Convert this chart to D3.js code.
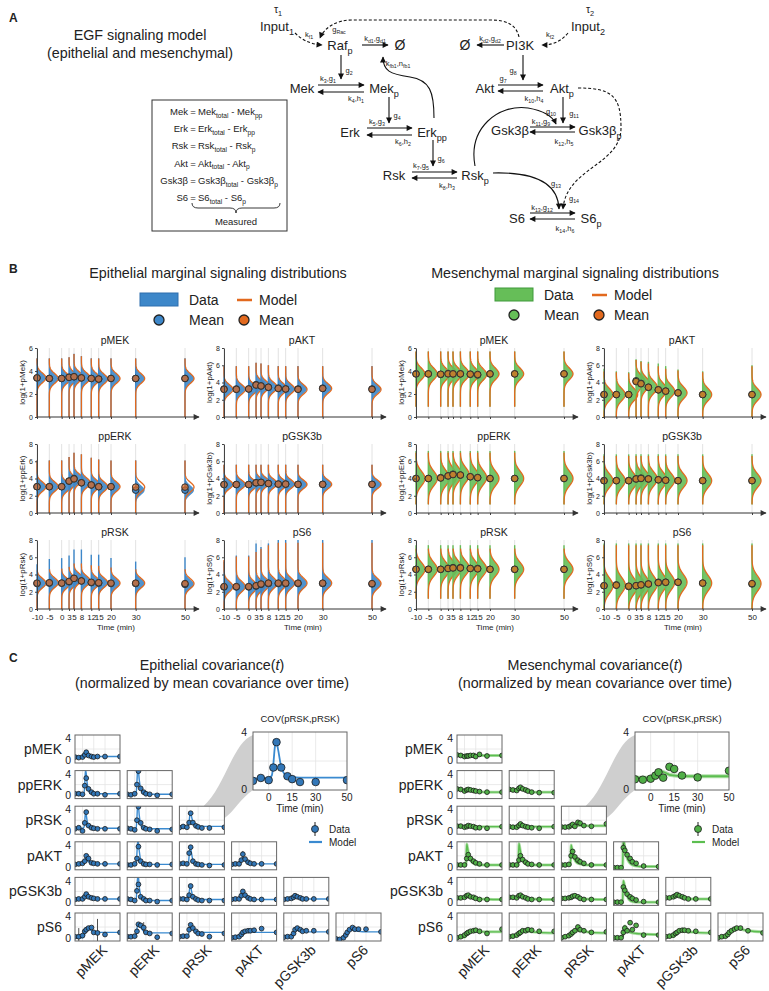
<!DOCTYPE html>
<html>
<head>
<meta charset="utf-8">
<script src="https://d3js.org/d3.v7.min.js"></script>
<style>
  body { margin: 0; background: #fff; }
  text { font-family: "Liberation Sans", Arial, sans-serif; fill: #222; white-space: pre; }
</style>
</head>
<body>
<script>
// ---------- data: panel B (marginal distributions) ----------
var times = [-10, -5, 0, 3, 5, 8, 12, 15, 20, 30, 50];
var proteinsB = ["pMEK", "pAKT", "ppERK", "pGSK3b", "pRSK", "pS6"];
var yLabelsB = ["log(1+pMek)", "log(1+pAkt)", "log(1+ppErk)", "log(1+pGsk3b)", "log(1+pRsk)", "log(1+pS6)"];
var yMaxB = [6, 8, 8, 8, 8, 8];

var epiDataMean = [
  [3.4, 3.35, 3.35, 3.45, 3.5, 3.4, 3.35, 3.3, 3.35, 3.35, 3.35],
  [3.25, 3.25, 3.25, 3.75, 3.6, 3.45, 3.35, 3.25, 3.25, 3.35, 3.25],
  [3.05, 3.05, 3.05, 3.7, 4.0, 3.5, 3.25, 3.05, 3.05, 2.65, 2.65],
  [3.3, 3.3, 3.3, 3.5, 3.55, 3.42, 3.35, 3.35, 3.32, 3.32, 3.32],
  [2.95, 3.0, 3.0, 3.15, 3.55, 3.25, 3.05, 3.0, 2.95, 2.95, 2.85],
  [2.55, 2.55, 2.55, 2.65, 2.85, 2.95, 2.95, 2.95, 2.95, 2.95, 2.9]
];
var epiModelMean = [
  [3.4, 3.35, 3.35, 3.45, 3.5, 3.4, 3.35, 3.3, 3.35, 3.35, 3.35],
  [3.2, 3.2, 3.25, 3.7, 3.6, 3.45, 3.3, 3.25, 3.2, 3.3, 3.2],
  [3.05, 3.05, 3.05, 3.7, 3.95, 3.5, 3.25, 3.05, 3.05, 3.0, 3.0],
  [3.3, 3.3, 3.3, 3.5, 3.55, 3.42, 3.35, 3.35, 3.32, 3.32, 3.32],
  [3.0, 3.05, 3.0, 3.2, 3.55, 3.25, 3.1, 3.05, 3.0, 3.0, 2.95],
  [2.6, 2.6, 2.6, 2.7, 2.9, 3.0, 3.0, 3.0, 3.0, 3.0, 2.95]
];
var epiDataTop = [
  [5.1, 5.1, 5.1, 5.2, 5.5, 5.3, 5.1, 5.1, 5.1, 5.1, 5.1],
  [5.9, 5.9, 5.9, 6.3, 6.2, 6.0, 5.9, 5.9, 5.9, 5.9, 5.9],
  [6.1, 6.1, 6.1, 6.5, 7.0, 6.8, 6.4, 6.2, 6.1, 6.1, 6.1],
  [5.6, 5.6, 5.6, 5.6, 5.6, 5.6, 5.6, 5.6, 5.6, 5.6, 5.6],
  [5.2, 5.8, 5.9, 6.2, 6.9, 6.9, 6.3, 6.3, 5.9, 5.5, 6.0],
  [5.5, 6.2, 6.2, 7.6, 7.2, 7.6, 8.0, 8.0, 8.0, 8.0, 8.0]
];
var epiModelTop = [
  [5.1, 5.1, 5.1, 5.2, 5.5, 5.3, 5.1, 5.1, 5.1, 5.1, 5.1],
  [5.9, 5.9, 5.9, 6.3, 6.2, 6.0, 5.9, 5.9, 5.9, 5.9, 5.9],
  [6.1, 6.1, 6.1, 6.5, 7.0, 6.8, 6.4, 6.2, 6.1, 6.1, 6.1],
  [5.6, 5.6, 5.6, 5.6, 5.6, 5.6, 5.6, 5.6, 5.6, 5.6, 5.6],
  [4.5, 4.6, 4.7, 4.9, 5.3, 5.3, 5.1, 5.0, 4.8, 4.6, 4.6],
  [5.7, 6.1, 6.1, 6.6, 7.0, 7.4, 7.7, 7.7, 7.7, 7.7, 7.7]
];
var epiBottom = [0, 0, 0, 0, 0, 0];
var epiSpread = [0.42, 0.55, 0.55, 0.5, 0.55, 0.6];

var mesDataMean = [
  [3.75, 3.75, 3.7, 3.78, 3.75, 3.75, 3.72, 3.65, 3.75, 3.75, 3.75],
  [2.6, 2.6, 2.6, 4.2, 3.9, 3.45, 3.15, 3.0, 2.8, 2.6, 2.6],
  [4.0, 4.0, 4.1, 4.3, 4.5, 4.4, 4.2, 4.1, 4.0, 4.0, 4.0],
  [3.75, 3.75, 3.75, 3.95, 4.05, 3.95, 3.85, 3.8, 3.75, 3.75, 3.75],
  [4.6, 4.6, 4.6, 4.7, 4.8, 4.8, 4.7, 4.7, 4.6, 4.6, 4.6],
  [2.7, 2.8, 2.6, 2.7, 2.8, 2.9, 3.1, 3.1, 3.1, 3.0, 2.9]
];
var mesModelMean = [
  [3.75, 3.75, 3.72, 3.75, 3.75, 3.75, 3.72, 3.7, 3.75, 3.75, 3.75],
  [2.6, 2.6, 2.6, 4.1, 3.85, 3.45, 3.15, 3.0, 2.8, 2.6, 2.6],
  [4.0, 4.0, 4.05, 4.3, 4.45, 4.4, 4.2, 4.1, 4.0, 4.0, 4.0],
  [3.75, 3.75, 3.75, 3.95, 4.0, 3.95, 3.85, 3.8, 3.75, 3.75, 3.75],
  [4.6, 4.6, 4.6, 4.7, 4.75, 4.75, 4.7, 4.65, 4.6, 4.6, 4.6],
  [2.7, 2.75, 2.65, 2.7, 2.8, 2.9, 3.05, 3.1, 3.1, 3.0, 2.95]
];
var mesDataTop = [
  [5.7, 5.7, 5.7, 5.7, 5.7, 5.7, 5.7, 5.7, 5.7, 5.7, 5.7],
  [5.6, 5.3, 5.2, 6.7, 6.5, 6.4, 6.2, 5.9, 5.5, 5.3, 6.0],
  [7.2, 7.2, 7.2, 7.2, 7.2, 7.2, 7.2, 7.2, 7.2, 7.2, 7.2],
  [6.8, 6.8, 6.8, 6.8, 6.8, 6.8, 6.8, 6.8, 6.8, 6.8, 6.8],
  [7.4, 7.4, 7.4, 7.4, 7.4, 7.4, 7.4, 7.4, 7.4, 7.4, 7.4],
  [7.6, 7.6, 7.6, 7.6, 7.6, 7.6, 7.6, 7.6, 7.6, 7.6, 7.6]
];
var mesModelTop = [
  [5.7, 5.7, 5.7, 5.7, 5.7, 5.7, 5.7, 5.7, 5.7, 5.7, 5.7],
  [5.3, 5.2, 5.1, 6.6, 6.4, 6.2, 5.9, 5.6, 5.4, 5.2, 5.9],
  [7.0, 7.0, 7.0, 7.0, 7.0, 7.0, 7.0, 7.0, 7.0, 7.0, 7.0],
  [6.6, 6.6, 6.6, 6.6, 6.6, 6.6, 6.6, 6.6, 6.6, 6.6, 6.6],
  [7.0, 7.0, 7.0, 7.0, 7.0, 7.0, 7.0, 7.0, 7.0, 7.0, 7.0],
  [7.4, 7.4, 7.4, 7.4, 7.4, 7.4, 7.4, 7.4, 7.4, 7.4, 7.4]
];
var mesBottom = [0.9, 0, 1.0, 1.0, 1.2, 0];
var mesSpread = [0.5, 0.7, 0.85, 0.8, 0.8, 0.9];

// ---------- data: panel C (covariance over time) ----------
var rowLabelsC = ["pMEK", "ppERK", "pRSK", "pAKT", "pGSK3b", "pS6"];
var colLabelsC = ["pMEK", "pERK", "pRSK", "pAKT", "pGSK3b", "pS6"];
var modelTimes = [-10, 0, 2, 3, 4, 5, 6, 8, 10, 12, 15, 20, 30, 50];
var bigTicks = [0, 15, 30, 50];

// lower triangle, row by row
var epiCovData = [
  [0.5, 0.4, 0.5, 0.9, 1.4, 0.8, 0.6, 0.5, 0.6, 0.6, 0.6],
  [0.3, 0.3, 0.2, 1.8, 3.2, 1.2, 0.6, 0.3, 0.3, 0.1, 0.3],
  [0.2, 0.1, 0.3, 2.0, 4.5, 1.3, 0.6, 0.3, 0.2, 0.0, 0.2],
  [0.4, 0.6, 0.0, 1.5, 3.5, 1.0, 0.6, 0.5, 0.4, 0.4, 0.4],
  [0.5, 0.4, 0.2, 2.0, 4.5, 1.5, 0.6, 0.4, 0.3, 0.0, 0.3],
  [0.63, 0.83, 0.68, 1.55, 3.3, 1.55, 0.95, 0.75, 0.55, 0.55, 0.68],
  [0.4, 0.5, 0.6, 1.0, 2.0, 1.5, 0.7, 0.6, 0.5, 0.5, 0.5],
  [0.3, 0.3, 0.5, 1.5, 3.7, 1.0, 0.5, 0.4, 0.4, 0.3, 0.4],
  [0.5, 0.6, 0.5, 2.5, 3.6, 1.0, 0.5, 0.4, 0.3, 0.2, 0.3],
  [0.4, 0.5, 0.5, 1.2, 2.3, 1.4, 0.8, 0.6, 0.5, 0.5, 0.5],
  [0.5, 0.6, 0.6, 1.0, 1.5, 1.0, 0.8, 0.7, 0.6, 0.6, 0.6],
  [0.6, 0.5, 0.3, 2.1, 3.3, 1.0, 0.6, 0.3, 0.3, 0.1, 0.3],
  [0.6, 0.6, 0.5, 1.3, 3.0, 1.0, 0.6, 0.4, 0.3, 0.3, 0.3],
  [0.5, 0.6, 0.6, 1.2, 2.0, 1.3, 0.8, 0.6, 0.5, 0.5, 0.5],
  [0.5, 0.6, 0.7, 0.9, 1.2, 1.0, 0.8, 0.6, 0.6, 0.6, 0.6],
  [0.2, 0.2, 0.4, 1.2, 1.5, 1.8, 1.9, 1.0, 0.9, 0.6, 1.0],
  [0.2, 0.2, 0.3, 1.2, 2.5, 2.3, 1.9, 1.0, 0.8, 0.1, 0.8],
  [0.2, 0.3, 0.3, 1.5, 2.4, 1.8, 1.2, 0.8, 0.7, 0.2, 0.8],
  [0.0, 0.1, 0.2, 0.6, 1.0, 1.2, 1.3, 1.3, 1.4, 1.7, 1.0],
  [0.1, 0.2, 0.2, 0.8, 1.5, 1.8, 1.5, 1.2, 1.3, 1.3, 1.1],
  [-0.2, -0.3, 0.0, 0.5, 1.0, 1.5, 1.9, 1.6, 1.6, 1.6, 1.1]
];
var epiCovModel = [
  [0.6, 0.6, 0.6, 0.9, 1.3, 1.2, 0.9, 0.7, 0.6, 0.6, 0.6, 0.6, 0.6, 0.6],
  [0.3, 0.3, 0.5, 2.0, 4.8, 4.0, 2.5, 1.0, 0.5, 0.3, 0.3, 0.3, 0.3, 0.3],
  [0.2, 0.2, 0.5, 2.5, 5.0, 4.5, 3.0, 1.2, 0.5, 0.3, 0.2, 0.2, 0.2, 0.2],
  [0.5, 0.5, 0.7, 1.8, 3.5, 3.0, 2.0, 0.9, 0.6, 0.5, 0.5, 0.5, 0.5, 0.5],
  [0.4, 0.4, 0.6, 2.5, 5.0, 4.6, 3.0, 1.2, 0.6, 0.5, 0.4, 0.4, 0.4, 0.4],
  [0.8, 0.8, 1.0, 1.8, 3.0, 3.3, 2.8, 1.6, 1.1, 0.95, 0.88, 0.85, 0.85, 0.85],
  [0.5, 0.5, 0.7, 1.1, 1.6, 1.6, 1.3, 0.9, 0.7, 0.6, 0.5, 0.5, 0.5, 0.5],
  [0.4, 0.4, 0.6, 2.5, 4.8, 4.5, 3.0, 1.2, 0.6, 0.4, 0.4, 0.4, 0.4, 0.4],
  [0.4, 0.4, 0.6, 2.0, 3.4, 3.5, 2.6, 1.2, 0.6, 0.4, 0.4, 0.4, 0.4, 0.4],
  [0.5, 0.5, 0.6, 1.0, 1.6, 1.7, 1.4, 1.0, 0.7, 0.6, 0.5, 0.5, 0.5, 0.5],
  [0.6, 0.6, 0.7, 1.1, 1.5, 1.6, 1.4, 1.0, 0.8, 0.7, 0.6, 0.6, 0.6, 0.6],
  [0.4, 0.4, 0.6, 2.8, 4.8, 4.6, 3.0, 1.2, 0.5, 0.4, 0.3, 0.3, 0.3, 0.3],
  [0.6, 0.6, 0.7, 1.8, 2.8, 2.9, 2.2, 1.0, 0.6, 0.5, 0.5, 0.5, 0.5, 0.5],
  [0.5, 0.5, 0.7, 1.2, 1.7, 1.7, 1.4, 1.0, 0.7, 0.6, 0.5, 0.5, 0.5, 0.5],
  [0.6, 0.6, 0.7, 0.9, 1.1, 1.2, 1.1, 0.9, 0.7, 0.6, 0.6, 0.6, 0.6, 0.6],
  [0.0, 0.0, 0.2, 0.6, 1.2, 1.6, 1.8, 1.9, 1.6, 1.3, 1.1, 1.0, 1.0, 1.0],
  [0.2, 0.2, 0.6, 1.6, 2.5, 2.6, 2.4, 2.0, 1.5, 1.2, 1.0, 0.9, 0.9, 0.9],
  [0.2, 0.2, 0.5, 1.3, 1.9, 2.0, 1.9, 1.6, 1.3, 1.1, 1.0, 1.0, 1.0, 1.0],
  [0.0, 0.0, 0.2, 0.5, 0.9, 1.1, 1.2, 1.3, 1.3, 1.2, 1.1, 1.0, 1.0, 1.0],
  [0.1, 0.1, 0.3, 0.9, 1.4, 1.6, 1.6, 1.4, 1.3, 1.2, 1.1, 1.1, 1.1, 1.1],
  [-0.1, -0.1, 0.1, 0.4, 0.8, 1.1, 1.4, 1.5, 1.5, 1.4, 1.3, 1.2, 1.1, 1.1]
];
var mesCovData = [
  [0.9, 0.8, 0.6, 0.7, 0.7, 0.8, 0.8, 0.6, 1.0, 0.7, 0.8],
  [1.2, 1.1, 0.8, 1.0, 1.1, 1.0, 0.9, 0.8, 0.7, 0.6, 0.6],
  [1.1, 1.0, 0.9, 1.3, 1.5, 1.2, 1.0, 0.8, 0.6, 0.5, 0.5],
  [0.9, 0.9, 0.7, 0.8, 1.0, 0.9, 0.8, 0.6, 0.6, 0.5, 0.8],
  [0.8, 0.7, 0.7, 1.0, 1.3, 1.0, 0.8, 0.7, 0.6, 0.5, 0.8],
  [0.74, 0.71, 0.78, 0.99, 1.22, 0.85, 1.6, 1.45, 1.0, 0.87, 1.33],
  [0.3, 0.3, 0.3, 1.5, 2.2, 1.5, 1.0, 0.7, 0.5, 0.3, 0.3],
  [0.3, 0.3, 0.3, 1.2, 2.0, 1.3, 0.8, 0.5, 0.4, 0.3, 0.3],
  [0.3, 0.3, 0.4, 2.0, 2.8, 1.8, 1.2, 0.9, 0.6, 0.3, 0.3],
  [-0.2, -0.2, -0.2, 3.5, 3.0, 2.2, 1.5, 0.9, 0.6, 0.1, 0.0],
  [0.8, 0.8, 0.9, 1.2, 1.3, 1.0, 0.9, 0.7, 0.5, 0.5, 0.5],
  [0.9, 0.9, 0.8, 1.2, 1.3, 1.0, 0.8, 0.6, 0.5, 0.5, 0.5],
  [0.7, 0.7, 0.8, 0.9, 1.1, 1.2, 1.0, 0.7, 0.5, 0.5, 0.5],
  [0.0, 0.0, 0.0, 2.8, 2.2, 1.5, 1.0, 0.7, 0.4, 0.1, 0.0],
  [0.8, 0.8, 1.0, 1.2, 1.4, 1.2, 1.0, 0.8, 0.6, 0.6, 0.6],
  [0.0, 0.2, 0.5, 0.8, 1.0, 1.2, 1.3, 1.4, 1.2, 0.8, 1.6],
  [0.2, 0.3, 0.5, 0.8, 1.0, 1.3, 1.3, 1.5, 1.4, 1.2, 1.2],
  [0.0, 0.2, 0.4, 0.7, 1.0, 1.3, 2.0, 1.5, 1.3, 1.0, 1.1],
  [0.0, 0.0, 0.0, 1.0, 1.8, 1.3, 2.8, 1.5, 2.3, 0.5, 0.5],
  [0.2, 0.3, 0.5, 0.8, 1.0, 1.3, 1.4, 1.4, 1.3, 1.2, 1.0],
  [0.0, 0.2, 0.3, 0.6, 1.0, 1.3, 1.6, 1.8, 1.8, 1.3, 0.9]
];
var mesCovModel = [
  [0.8, 0.8, 0.8, 0.8, 0.8, 0.8, 0.8, 0.8, 0.8, 0.8, 0.8, 0.8, 0.8, 0.8],
  [1.1, 0.95, 0.95, 0.95, 0.9, 0.9, 0.9, 0.85, 0.8, 0.75, 0.7, 0.65, 0.6, 0.6],
  [1.0, 0.9, 1.0, 1.2, 1.3, 1.3, 1.2, 1.1, 1.0, 0.9, 0.8, 0.6, 0.6, 0.6],
  [0.8, 0.8, 0.8, 0.8, 0.8, 0.8, 0.8, 0.8, 0.8, 0.8, 0.8, 0.8, 0.8, 0.8],
  [0.8, 0.8, 0.85, 0.95, 1.05, 1.1, 1.05, 1.0, 0.95, 0.9, 0.85, 0.8, 0.8, 0.8],
  [0.85, 0.85, 0.95, 1.05, 1.15, 1.25, 1.3, 1.25, 1.15, 1.05, 1.0, 0.95, 0.95, 0.95],
  [0.3, 0.3, 0.3, 4.2, 3.5, 2.8, 2.0, 1.2, 0.8, 0.6, 0.4, 0.3, 0.3, 0.3],
  [0.3, 0.3, 0.3, 4.3, 3.6, 2.8, 2.0, 1.1, 0.7, 0.5, 0.4, 0.3, 0.3, 0.3],
  [0.3, 0.3, 0.3, 4.0, 3.4, 2.7, 2.0, 1.2, 0.8, 0.6, 0.5, 0.3, 0.3, 0.3],
  [-0.2, -0.2, -0.2, 5.0, 4.5, 3.5, 2.6, 1.6, 1.0, 0.6, 0.3, 0.1, 0.0, 0.0],
  [0.8, 0.8, 0.85, 1.0, 1.1, 1.2, 1.15, 1.0, 0.9, 0.8, 0.7, 0.6, 0.55, 0.5],
  [0.9, 0.9, 0.9, 1.0, 1.1, 1.2, 1.15, 1.0, 0.9, 0.8, 0.7, 0.6, 0.55, 0.5],
  [0.8, 0.8, 0.85, 0.95, 1.05, 1.1, 1.1, 1.0, 0.9, 0.8, 0.7, 0.6, 0.55, 0.5],
  [0.0, 0.0, 0.0, 4.0, 3.5, 2.8, 2.0, 1.2, 0.6, 0.3, 0.1, 0.0, 0.0, 0.0],
  [0.8, 0.8, 0.9, 1.1, 1.3, 1.35, 1.3, 1.1, 0.9, 0.8, 0.7, 0.6, 0.6, 0.6],
  [0.0, 0.1, 0.4, 0.7, 0.9, 1.0, 1.1, 1.2, 1.2, 1.2, 1.2, 1.1, 1.1, 1.1],
  [0.2, 0.3, 0.5, 0.7, 0.9, 1.0, 1.1, 1.2, 1.3, 1.3, 1.2, 1.1, 1.0, 0.9],
  [0.1, 0.2, 0.4, 0.6, 0.8, 1.0, 1.1, 1.2, 1.3, 1.3, 1.3, 1.2, 1.0, 0.9],
  [0.0, 0.0, 0.2, 1.2, 2.0, 2.2, 2.0, 1.6, 1.2, 1.0, 0.9, 0.8, 0.7, 0.6],
  [0.2, 0.2, 0.4, 0.7, 0.9, 1.1, 1.2, 1.3, 1.3, 1.3, 1.2, 1.1, 1.0, 0.9],
  [0.0, 0.1, 0.3, 0.5, 0.8, 1.0, 1.2, 1.4, 1.6, 1.7, 1.7, 1.6, 1.3, 1.1]
];
// [cell, time index, half length] for the few visible long error bars
var epiCovErr = [[15, 1, 1.6], [15, 8, 2.6], [16, 6, 1.0], [9, 4, 0.6]];
var mesCovErr = [[18, 3, 0.8], [9, 3, 0.8]];

// ---------- colours ----------
var blue = "#3d87c9", blueDark = "#2f6fae", green = "#66be58", greenDark = "#3f9a3a",
    orange = "#e2691e";

var svg = d3.select("body").append("svg").attr("width", 769).attr("height", 991);
var defs = svg.append("defs");
defs.append("marker").attr("id", "ah").attr("viewBox", "0 0 10 10")
  .attr("refX", 9).attr("refY", 5).attr("markerWidth", 7).attr("markerHeight", 6)
  .attr("markerUnits", "userSpaceOnUse").attr("orient", "auto")
  .append("path").attr("d", "M0,0 L10,5 L0,10 z").attr("fill", "#111");
defs.append("marker").attr("id", "axarrow").attr("viewBox", "0 0 10 10")
  .attr("refX", 9).attr("refY", 5).attr("markerWidth", 8).attr("markerHeight", 6)
  .attr("markerUnits", "userSpaceOnUse").attr("orient", "auto")
  .append("path").attr("d", "M0,0 L10,5 L0,10 z").attr("fill", "#333");

// text with _{...} subscripts
function rich(parent, x, y, str, size, anchor) {
  var t = parent.append("text").attr("x", x).attr("y", y).attr("font-size", size)
    .attr("text-anchor", anchor || "middle");
  var re = /_\{([^}]*)\}/g, last = 0, m, parts = [], shift = 0;
  while ((m = re.exec(str)) !== null) {
    if (m.index > last) parts.push([str.slice(last, m.index), false]);
    parts.push([m[1], true]);
    last = re.lastIndex;
  }
  if (last < str.length) parts.push([str.slice(last), false]);
  parts.forEach(function (p) {
    var target = p[1] ? size * 0.3 : 0;
    t.append("tspan").attr("dy", target - shift).attr("font-size", p[1] ? size * 0.7 : size).text(p[0]);
    shift = target;
  });
  return t;
}
function plain(parent, x, y, str, size, anchor) {
  return parent.append("text").attr("x", x).attr("y", y).attr("font-size", size)
    .attr("text-anchor", anchor || "middle").text(str);
}

// ================= Panel A =================
var gA = svg.append("g");
plain(gA, 9, 22, "A", 12, "start").attr("font-weight", "bold");
plain(gA, 140, 40, "EGF signaling model", 14.3);
plain(gA, 140, 58, "(epithelial and mesenchymal)", 14.3);

// equations box
gA.append("rect").attr("x", 152).attr("y", 100).attr("width", 135).attr("height", 131)
  .attr("fill", "none").attr("stroke", "#333").attr("stroke-width", 1);
var eqL = ["Mek", "Erk", "Rsk", "Akt", "Gsk3β", "S6"];
var eqR = ["Mek_{total} - Mek_{pp}", "Erk_{total} - Erk_{pp}", "Rsk_{total} - Rsk_{p}",
           "Akt_{total} - Akt_{p}", "Gsk3β_{total} - Gsk3β_{p}", "S6_{total} - S6_{p}"];
eqL.forEach(function (s, i) {
  var yb = 115 + i * 17.2;
  plain(gA, 188, yb, s, 9.5, "end");
  plain(gA, 193, yb, "=", 9.5);
  rich(gA, 198, yb, eqR[i], 9.5, "start");
});
gA.append("path").attr("d", "M192,203 Q192,208 198,208 L230,208 Q236,208 236,213 Q236,208 242,208 L274,208 Q280,208 280,203")
  .attr("fill", "none").attr("stroke", "#222").attr("stroke-width", 0.9);
plain(gA, 236, 225, "Measured", 9.5);

// network nodes
var nodes = [
  ["τ_{1}", 278, 13, 10.5], ["Input_{1}", 277, 31, 13], ["Raf_{p}", 340, 50, 13], ["Ø", 400, 50, 14],
  ["Ø", 465, 50, 14], ["PI3K", 520, 50, 13], ["τ_{2}", 590, 13, 10.5], ["Input_{2}", 588, 31, 13],
  ["Mek", 302, 93, 13], ["Mek_{p}", 384, 93, 13], ["Akt", 485, 93, 13], ["Akt_{p}", 562, 93, 13],
  ["Erk", 350, 137, 13], ["Erk_{pp}", 432, 137, 13], ["Gsk3β", 510, 135, 13], ["Gsk3β_{p}", 600, 135, 13],
  ["Rsk", 394, 180, 13], ["Rsk_{p}", 475, 180, 13], ["S6", 517, 223, 13], ["S6_{p}", 591, 223, 13]
];
nodes.forEach(function (n) { rich(gA, n[1], n[2], n[0], n[3]); });

var rates = [
  ["k_{f1}", 309, 37], ["g_{Rac}", 339, 32], ["k_{d1},g_{d1}", 375, 41], ["k_{fb1},n_{fb1}", 398, 66],
  ["g_{2}", 349, 73], ["k_{3},g_{1}", 328, 81], ["k_{4},h_{1}", 356, 101], ["g_{4}", 397, 118],
  ["k_{5},g_{3}", 377, 124], ["k_{6},h_{2}", 403, 144], ["g_{6}", 441, 161], ["k_{7},g_{5}", 421, 168],
  ["k_{8},h_{3}", 447, 188], ["k_{d2},g_{d2}", 490, 41], ["k_{f2}", 550, 37], ["g_{8}", 513, 73],
  ["g_{7}", 503, 81], ["k_{10},h_{4}", 534, 101], ["g_{10}", 551, 114], ["g_{11}", 574, 116],
  ["k_{11},g_{9}", 541, 124], ["k_{12},h_{5}", 564, 144], ["g_{13}", 556, 186], ["g_{14}", 574, 201],
  ["k_{13},g_{12}", 542, 210], ["k_{14},h_{6}", 565, 231]
];
rates.forEach(function (r) { rich(gA, r[1], r[2], r[0], 7.5); });

var straight = [
  [362, 45, 388, 45], [504, 45, 477, 45], [341, 55, 341, 79], [318, 85, 364, 85], [364, 92, 318, 92],
  [389, 97, 389, 123], [367, 128, 412, 128], [412, 135, 367, 135], [433, 140, 433, 166],
  [412, 172, 457, 172], [457, 178, 412, 178], [523, 55, 523, 80], [498, 85, 543, 85], [543, 91, 498, 91],
  [563, 97, 563, 123], [530, 127, 575, 127], [575, 132, 530, 132], [530, 213, 575, 213], [575, 219, 530, 219]
];
straight.forEach(function (a) {
  gA.append("line").attr("x1", a[0]).attr("y1", a[1]).attr("x2", a[2]).attr("y2", a[3])
    .attr("stroke", "#111").attr("stroke-width", 1.1).attr("marker-end", "url(#ah)");
});
var curves = [
  ["M295,33 C302,40 310,44 322,45", true],
  ["M519,37 C516,24 506,20 490,20 L352,20 C336,20 324,28 320,38", true],
  ["M568,33 C562,40 555,45 542,45", true],
  ["M578,88 C612,88 621,96 621,128 C621,165 566,168 563,209", true],
  ["M434,118 C434,92 430,80 410,77 C390,74 383,71 383,57", false],
  ["M475,166 C468,128 498,104 528,108 C545,111 553,117 556,124", false],
  ["M493,173 C530,172 558,180 559,209", false]
];
curves.forEach(function (c) {
  gA.append("path").attr("d", c[0]).attr("fill", "none").attr("stroke", "#111")
    .attr("stroke-width", 1.1).attr("stroke-dasharray", c[1] ? "3,2" : null)
    .attr("marker-end", "url(#ah)");
});

// ================= Panel B =================
var gB = svg.append("g");
plain(gB, 9, 273, "B", 12, "start").attr("font-weight", "bold");
plain(gB, 218, 278, "Epithelial marginal signaling distributions", 14.3);
plain(gB, 575, 278, "Mesenchymal marginal signaling distributions", 14.3);

function legendB(x, y, fill, stroke) {
  gB.append("rect").attr("x", x).attr("y", y).attr("width", 38).attr("height", 13)
    .attr("fill", fill).attr("stroke", stroke).attr("stroke-width", 1);
  plain(gB, x + 49, y + 12, "Data", 14, "start");
  gB.append("line").attr("x1", x + 97).attr("x2", x + 112).attr("y1", y + 7).attr("y2", y + 7)
    .attr("stroke", orange).attr("stroke-width", 2.5);
  plain(gB, x + 119, y + 12, "Model", 14, "start");
  gB.append("circle").attr("cx", x + 19).attr("cy", y + 27).attr("r", 5)
    .attr("fill", fill).attr("stroke", "#222").attr("stroke-width", 1.3);
  plain(gB, x + 49, y + 32, "Mean", 14, "start");
  gB.append("circle").attr("cx", x + 104).attr("cy", y + 27).attr("r", 5)
    .attr("fill", orange).attr("stroke", "#222").attr("stroke-width", 1.3);
  plain(gB, x + 119, y + 32, "Mean", 14, "start");
}
legendB(140, 293, blue, blueDark);
legendB(495, 288, green, greenDark);

var colX = [37, 224, 416, 604], rowZero = [417, 513, 609], plotH = 69, plotW = 148;

function violinPlot(x0, yZero, k, dMean, mMean, dTop, mTop, bottom, sd, fill, showTime) {
  var g = gB.append("g");
  var x = d3.scaleLinear().domain([-10, 50]).range([x0, x0 + plotW]);
  var y = d3.scaleLinear().domain([0, yMaxB[k]]).range([yZero, yZero - plotH]);
  var w = 9;

  times.forEach(function (t) {
    g.append("line").attr("x1", x(t)).attr("x2", x(t)).attr("y1", y(0)).attr("y2", yZero - plotH)
      .attr("stroke", "#e2e2e2").attr("stroke-width", 1);
  });
  times.forEach(function (t, i) {
    var ys = d3.range(bottom, dTop[i] + 0.001, 0.04);
    var dens = function (v, m) { return Math.exp(-0.5 * Math.pow((v - m) / sd, 2)); };
    g.append("path").datum(ys)
      .attr("d", d3.area().y(function (v) { return y(v); }).x0(x(t))
        .x1(function (v) { return x(t) + w * dens(v, dMean[i]); }))
      .attr("fill", fill).attr("fill-opacity", 0.9);
    g.append("line").attr("x1", x(t)).attr("x2", x(t)).attr("y1", y(bottom)).attr("y2", y(dTop[i]))
      .attr("stroke", fill).attr("stroke-width", 1.4);
    var ym = d3.range(bottom, mTop[i] + 0.001, 0.04);
    g.append("path").datum(ym)
      .attr("d", d3.line().y(function (v) { return y(v); })
        .x(function (v) { return x(t) + w * dens(v, mMean[i]); }))
      .attr("fill", "none").attr("stroke", orange).attr("stroke-width", 1.3);
  });
  times.forEach(function (t, i) {
    g.append("circle").attr("cx", x(t)).attr("cy", y(dMean[i])).attr("r", 3.3)
      .attr("fill", fill).attr("stroke", "#333").attr("stroke-width", 1);
    g.append("circle").attr("cx", x(t)).attr("cy", y(mMean[i])).attr("r", 3.3)
      .attr("fill", orange).attr("fill-opacity", 0.72).attr("stroke", "#333").attr("stroke-width", 1);
  });

  var ay = g.append("g").attr("transform", "translate(" + x0 + ",0)")
    .call(d3.axisLeft(y).tickValues(d3.range(0, yMaxB[k] + 1, 2)).tickFormat(d3.format("d"))
      .tickSize(2).tickSizeOuter(0).tickPadding(2));
  ay.attr("font-size", 7).attr("font-family", null);
  ay.selectAll("text").attr("fill", "#444");
  ay.selectAll("line,path").attr("stroke", "#444");

  var ax = g.append("g").attr("transform", "translate(0," + yZero + ")")
    .call(d3.axisBottom(x).tickValues(times).tickSize(2).tickSizeOuter(0).tickPadding(3)
      .tickFormat(showTime ? function (d) { return d; } : function () { return ""; }));
  ax.attr("font-size", 8).attr("font-family", null);
  ax.select(".domain").remove();
  ax.selectAll("text").attr("fill", "#333");
  ax.selectAll("line").attr("stroke", "#444");
  g.append("line").attr("x1", x0).attr("x2", x0 + plotW + 14).attr("y1", yZero).attr("y2", yZero)
    .attr("stroke", "#333").attr("stroke-width", 1).attr("marker-end", "url(#axarrow)");

  plain(g, x0 + 78, yZero - plotH - 4, proteinsB[k], 10.5);
  plain(g, 0, 0, yLabelsB[k], 8).attr("transform", "translate(" + (x0 - 12) + "," + (yZero - plotH / 2) + ") rotate(-90)");
  if (showTime) plain(g, x0 + 79, yZero + 21, "Time (min)", 8);
}

for (var k = 0; k < 6; k++) {
  var r = Math.floor(k / 2), c = k % 2;
  violinPlot(colX[c], rowZero[r], k, epiDataMean[k], epiModelMean[k], epiDataTop[k], epiModelTop[k],
    epiBottom[k], epiSpread[k], blue, r === 2);
  violinPlot(colX[c + 2], rowZero[r], k, mesDataMean[k], mesModelMean[k], mesDataTop[k], mesModelTop[k],
    mesBottom[k], mesSpread[k], green, r === 2);
}

// ================= Panel C =================
var gC = svg.append("g");
plain(gC, 9, 662, "C", 12, "start").attr("font-weight", "bold");
function titleC(cx, name) {
  var t = plain(gC, cx, 670, name + " covariance(", 14.3);
  t.append("tspan").attr("font-style", "italic").text("t");
  t.append("tspan").text(")");
  plain(gC, cx, 688, "(normalized by mean covariance over time)", 14.3);
}
titleC(212, "Epithelial");
titleC(595, "Mesenchymal");

var clipN = 0;
function covCell(g, bx, by, bw, bh, yDom, data, model, color, markColor, mFill, markR, big, errs) {
  var x = d3.scaleLinear().domain([-10, 50]).range([bx, bx + bw]);
  var y = d3.scaleLinear().domain(yDom).range([by + bh, by]);
  var id = "clip" + (clipN++);
  defs.append("clipPath").attr("id", id).append("rect").attr("x", bx).attr("y", by).attr("width", bw).attr("height", bh);
  g.append("rect").attr("x", bx).attr("y", by).attr("width", bw).attr("height", bh).attr("fill", "#fff");
  var inner = g.append("g").attr("clip-path", "url(#" + id + ")");
  [0, 15, 30].forEach(function (t) {
    inner.append("line").attr("x1", x(t)).attr("x2", x(t)).attr("y1", by).attr("y2", by + bh)
      .attr("stroke", "#e4e4e4").attr("stroke-width", 0.8);
  });
  inner.append("line").attr("x1", bx).attr("x2", bx + bw).attr("y1", y(2)).attr("y2", y(2))
    .attr("stroke", "#e4e4e4").attr("stroke-width", 0.8);
  var line = d3.line().x(function (d, i) { return x(modelTimes[i]); }).y(function (d) { return y(d); })
    .curve(d3.curveMonotoneX);
  if (mFill) inner.append("path").attr("d", line(model)).attr("fill", "none")
    .attr("stroke", mFill).attr("stroke-width", big ? 4 : 3);
  inner.append("path").attr("d", line(model)).attr("fill", "none").attr("stroke", color)
    .attr("stroke-width", big ? 1.8 : 1.4);
  data.forEach(function (v, i) {
    var e = 0.15;
    errs.forEach(function (q) { if (q[0] === i) e = q[1]; });
    inner.append("line").attr("x1", x(times[i])).attr("x2", x(times[i]))
      .attr("y1", y(v - e)).attr("y2", y(v + e)).attr("stroke", "#222").attr("stroke-width", 0.8);
    inner.append("circle").attr("cx", x(times[i])).attr("cy", y(v)).attr("r", markR)
      .attr("fill", markColor).attr("stroke", "#1c1c1c").attr("stroke-width", 0.8);
  });
  g.append("rect").attr("x", bx).attr("y", by).attr("width", bw).attr("height", bh)
    .attr("fill", "none").attr("stroke", "#666").attr("stroke-width", 1);
  return { x: x, y: y };
}

function covGrid(x0, data, model, errList, color, markColor, band, labelRight, bigX, legX) {
  var g = gC.append("g");
  var bw = 45, bh = 28, colStep = 52.2, rowStep = 35.6, y0 = 735;
  var zoomX = x0 + 2 * colStep, zoomY = y0 + 2 * rowStep;
  // funnel from the pRSK-pRSK cell to the enlarged plot
  g.append("path").attr("d",
    "M" + (zoomX + 24) + "," + zoomY + " C" + (zoomX + 45) + "," + (zoomY - 18) + " " + (bigX - 20) + "," + 742 + " " + bigX + "," + 735 +
    " L" + bigX + "," + 790 + " C" + (bigX - 12) + "," + 798 + " " + (zoomX + 54) + "," + (zoomY + 6) + " " + (zoomX + bw) + "," + (zoomY + 12) + " Z")
    .attr("fill", "#cfcfcf");
  var idx = 0;
  for (var r = 0; r < 6; r++) {
    var by = y0 + r * rowStep;
    for (var c = 0; c <= r; c++) {
      var bx = x0 + c * colStep;
      var errs = errList.filter(function (q) { return q[0] === idx; }).map(function (q) { return [q[1], q[2]]; });
      var s = covCell(g, bx, by, bw, bh, [-0.6, 4.6], data[idx], model[idx], color, markColor, band, 2.4, false, errs);
      if (c === 0) {
        plain(g, bx - 4, s.y(4) + 4, "4", 10.5, "end").attr("fill", "#444");
        plain(g, bx - 4, s.y(0) + 4, "0", 10.5, "end").attr("fill", "#444");
      }
      idx++;
    }
    plain(g, labelRight, by + 19, rowLabelsC[r], 14, "end");
  }
  colLabelsC.forEach(function (lab, c) {
    plain(g, 0, 0, lab, 14, "end")
      .attr("transform", "translate(" + (x0 + c * colStep + 33) + ",951) rotate(-45)");
  });
  // enlarged pRSK-pRSK
  var bigW = 94, bigH = 58, bigY = 732;
  var s2 = covCell(g, bigX, bigY, bigW, bigH, [0, 4], data[5], model[5], color, markColor, band, 3.8, true, []);
  plain(g, bigX + 47, bigY - 10, "COV(pRSK,pRSK)", 9.5);
  plain(g, bigX - 6, bigY + 4, "4", 10.5, "end").attr("fill", "#444");
  plain(g, bigX - 6, bigY + bigH + 3, "0", 10.5, "end").attr("fill", "#444");
  bigTicks.forEach(function (t) { plain(g, s2.x(t), 801, String(t), 10).attr("fill", "#333"); });
  plain(g, bigX + 47, 812, "Time (min)", 10);
  // legend
  g.append("line").attr("x1", legX + 6).attr("x2", legX + 6).attr("y1", 822).attr("y2", 836).attr("stroke", "#222");
  g.append("circle").attr("cx", legX + 6).attr("cy", 829).attr("r", 3.5).attr("fill", markColor)
    .attr("stroke", "#1c1c1c").attr("stroke-width", 0.8);
  plain(g, legX + 20, 832.5, "Data", 10, "start");
  g.append("line").attr("x1", legX).attr("x2", legX + 13).attr("y1", 842).attr("y2", 842)
    .attr("stroke", color).attr("stroke-width", 2.2);
  plain(g, legX + 20, 845.5, "Model", 10, "start");
}
covGrid(75, epiCovData, epiCovModel, epiCovErr, "#3a8ad0", "#3277b8", null, 62, 253, 309);
covGrid(457, mesCovData, mesCovModel, mesCovErr, "#5cbe50", "#4fae46", "#b4e0ad", 443, 635, 692);
</script>
</body>
</html>
